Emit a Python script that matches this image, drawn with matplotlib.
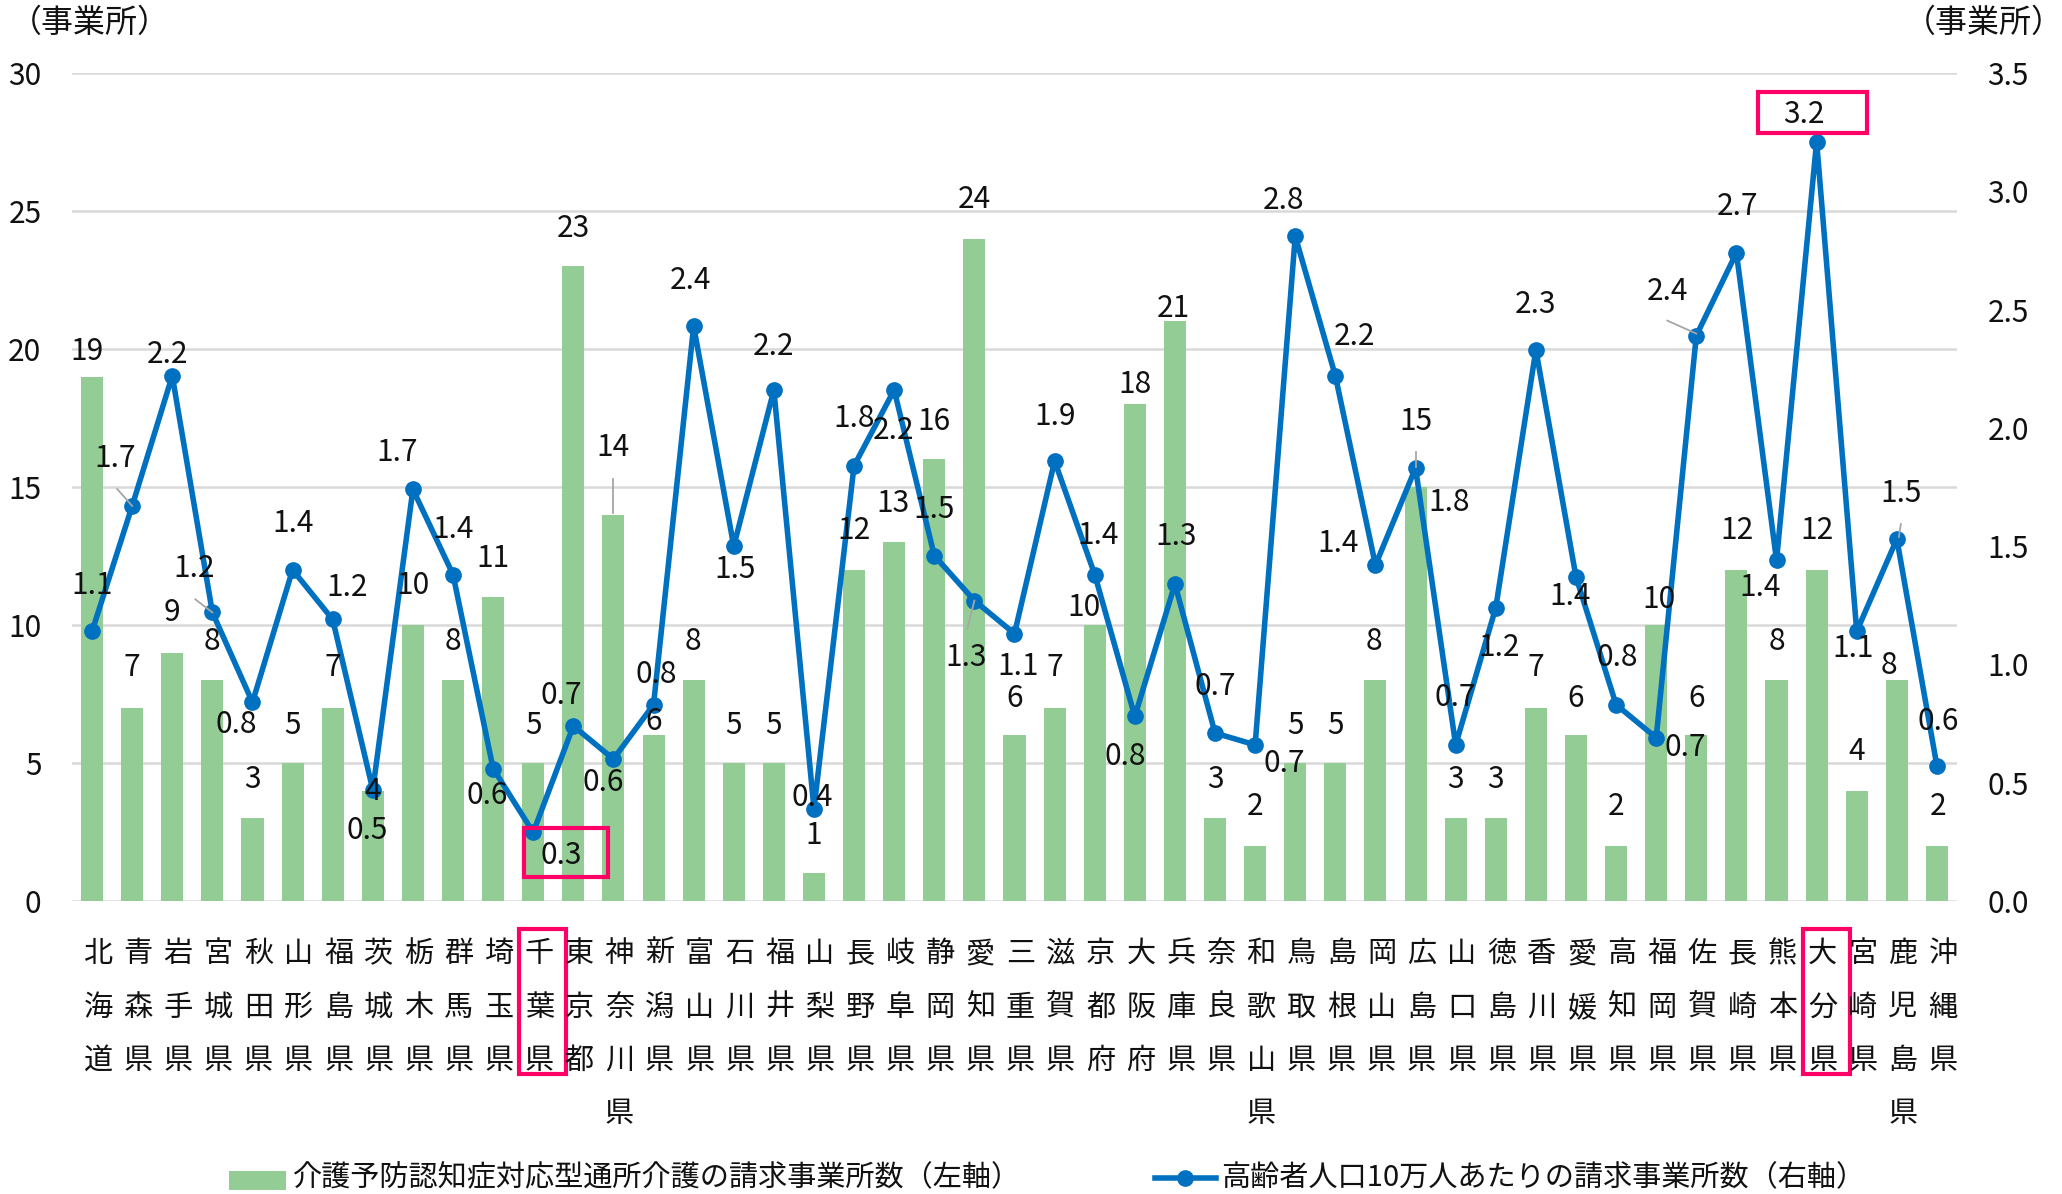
import matplotlib
matplotlib.use('Agg')
import matplotlib.pyplot as plt
from matplotlib.patches import Rectangle
import numpy as np

plt.rcParams['font.family'] = ['Noto Sans CJK JP', 'DejaVu Sans']

# ---------------- data ----------------
prefectures = ['北海道', '青森県', '岩手県', '宮城県', '秋田県', '山形県', '福島県', '茨城県',
               '栃木県', '群馬県', '埼玉県', '千葉県', '東京都', '神奈川県', '新潟県', '富山県',
               '石川県', '福井県', '山梨県', '長野県', '岐阜県', '静岡県', '愛知県', '三重県',
               '滋賀県', '京都府', '大阪府', '兵庫県', '奈良県', '和歌山県', '鳥取県', '島根県',
               '岡山県', '広島県', '山口県', '徳島県', '香川県', '愛媛県', '高知県', '福岡県',
               '佐賀県', '長崎県', '熊本県', '大分県', '宮崎県', '鹿児島県', '沖縄県']
offices = [19, 7, 9, 8, 3, 5, 7, 4, 10, 8, 11, 5, 23, 14, 6, 8, 5, 5, 1, 12, 13, 16, 24, 6,
           7, 10, 18, 21, 3, 2, 5, 5, 8, 15, 3, 3, 7, 6, 2, 10, 6, 12, 8, 12, 4, 8, 2]
per_100k = [1.14, 1.67, 2.22, 1.22, 0.84, 1.40, 1.19, 0.47, 1.74, 1.38, 0.56, 0.29, 0.74, 0.60,
            0.83, 2.43, 1.50, 2.16, 0.39, 1.84, 2.16, 1.46, 1.27, 1.13, 1.86, 1.38, 0.78, 1.34,
            0.71, 0.66, 2.81, 2.22, 1.42, 1.83, 0.66, 1.24, 2.33, 1.37, 0.83, 0.69, 2.39, 2.74,
            1.44, 3.21, 1.14, 1.53, 0.57]
left_ticks = [0, 5, 10, 15, 20, 25, 30]
right_ticks = [0.0, 0.5, 1.0, 1.5, 2.0, 2.5, 3.0, 3.5]
unit_label = '（事業所）'
legend_bar = '介護予防認知症対応型通所介護の請求事業所数（左軸）'
legend_line = '高齢者人口10万人あたりの請求事業所数（右軸）'
highlighted = ['千葉県', '大分県']

# label placement offsets (pixels, y downward) -- styling only
bar_label_off = [(-5, -25), (0, -40), (0, -40), (0, -39), (0, -39), (0, -38), (0, -40), (0, 1),
                 (0, -39), (0, -39), (0, -39), (0, -38), (0, -38), (0, -67), (0, -14), (-1, -39),
                 (0, -38), (0, -38), (0, -38), (0, -39), (-1, -39), (0, -38), (0, -39), (0, -37),
                 (0, -40), (-11, -18), (0, -20), (-2, -13), (0, -39), (0, -39), (0, -38), (0, -38),
                 (-2, -39), (0, -65), (0, -39), (0, -39), (0, -40), (0, -37), (0, -39), (3, -25),
                 (0, -37), (1, -39), (0, -39), (0, -39), (0, -39), (-8, -15), (1, -39)]
line_label_off = [(0, -46), (-17, -47), (-5, -21), (-18, -44), (-16, 22), (0, -46), (14, -32),
                  (-6, 41), (-16, -37), (0, -45), (-6, 27), (28, 23), (-12, -30), (-10, 23),
                  (3, -30), (-3, -46), (1, 23), (0, -44), (-2, -11), (0, -47), (-1, 40), (0, -46),
                  (-8, 57), (4, 33), (1, -44), (3, -39), (-10, 40), (1, -47), (0, -47), (29, 19),
                  (-12, -36), (19, -39), (-37, -22), (34, 34), (0, -47), (3, 40), (0, -45),
                  (-6, 20), (1, -47), (29, 10), (-29, -44), (1, -46), (-16, 27), (-13, -27),
                  (-4, 17), (4, -46), (1, -45)]

GREEN = '#93CD95'
BLUE = '#0070C0'
GRID = '#D9D9D9'
PINK = '#FF0066'
LEADER = '#A6A6A6'
TXT = '#111111'
FS_NUM = 21.5
FS_CJK = 21

W, H = 2062, 1194
fig = plt.figure(figsize=(W / 100, H / 100), dpi=100)
fig.patch.set_facecolor('white')
ax_l, ax_r, ax_t, ax_b = 72, 1957, 73, 901
ax = fig.add_axes([ax_l / W, 1 - ax_b / H, (ax_r - ax_l) / W, (ax_b - ax_t) / H])
ax2 = ax.twinx()
n = len(prefectures)
x = np.arange(n)

ax.bar(x, offices, width=0.55, color=GREEN, zorder=2)
ax.set_xlim(-0.5, n - 0.5)
ax.set_ylim(left_ticks[0], left_ticks[-1])
ax.set_yticks(left_ticks)
ax.set_yticklabels([str(t) for t in left_ticks])
ax.yaxis.grid(True, color=GRID, lw=1.8)
ax.set_axisbelow(True)
ax.set_xticks([])
ax.tick_params(axis='y', length=0, pad=22, labelsize=FS_NUM, labelcolor=TXT)
for s in ax.spines.values():
    s.set_visible(False)
ax.set_facecolor('none')

ax2.plot(x, per_100k, color=BLUE, lw=4, marker='o', ms=11, zorder=3)
ax2.set_ylim(right_ticks[0], right_ticks[-1])
ax2.set_yticks(right_ticks)
ax2.set_yticklabels([f'{t:.1f}' for t in right_ticks])
ax2.tick_params(axis='y', length=0, pad=22, labelsize=FS_NUM, labelcolor=TXT)
for s in ax2.spines.values():
    s.set_visible(False)

# overlay in pixel coordinates (y downward)
ov = fig.add_axes([0, 0, 1, 1], zorder=10)
ov.set_xlim(0, W)
ov.set_ylim(H, 0)
ov.axis('off')


def to_pix(axis, xv, yv):
    px, py = axis.transData.transform((xv, yv))
    return px, H - py


bar_anchor = [to_pix(ax, i, v) for i, v in enumerate(offices)]
pt_anchor = [to_pix(ax2, i, v) for i, v in enumerate(per_100k)]

for i in range(n):
    bx, by = bar_anchor[i]
    dx, dy = bar_label_off[i]
    ov.text(bx + dx, by + dy, str(offices[i]), ha='center', va='center',
            fontsize=FS_NUM, color=TXT)
    px, py = pt_anchor[i]
    dx, dy = line_label_off[i]
    ov.text(px + dx, py + dy, f'{per_100k[i]:.1f}', ha='center', va='center',
            fontsize=FS_NUM, color=TXT)

# leader lines
leaders = [('pt', 1, (-15, -17), (0, 0)), ('pt', 3, (-17, -13), (0, 0)),
           ('bar', 13, (0, -36), (0, -2)), ('pt', 22, (0, 0), (-7, 28)),
           ('pt', 40, (-29, -15), (0, -2)), ('bar', 33, (0, -35), (0, -20)),
           ('pt', 45, (4, -15), (2, -2))]
for kind, i, a, b in leaders:
    axp, ayp = (pt_anchor if kind == 'pt' else bar_anchor)[i]
    ov.plot([axp + a[0], axp + b[0]], [ayp + a[1], ayp + b[1]], color=LEADER, lw=1.3)

# category labels, stacked vertically
rows = [954, 1008, 1061, 1114]
for i, name in enumerate(prefectures):
    cx = bar_anchor[i][0] + 6
    for j, ch in enumerate(name):
        ov.text(cx, rows[j], ch, ha='center', va='center', fontsize=FS_CJK, color=TXT)

# highlight boxes
for name in highlighted:
    i = prefectures.index(name)
    cx = bar_anchor[i][0]
    ov.add_patch(Rectangle((cx - 14, 929), 47, 145, fill=False, ec=PINK, lw=3))
i = prefectures.index('千葉県')
lx, ly = pt_anchor[i][0] + line_label_off[i][0], pt_anchor[i][1] + line_label_off[i][1]
ov.add_patch(Rectangle((lx - 37, ly - 27), 84, 49, fill=False, ec=PINK, lw=3))
i = prefectures.index('大分県')
lx, ly = pt_anchor[i][0] + line_label_off[i][0], pt_anchor[i][1] + line_label_off[i][1]
ov.add_patch(Rectangle((lx - 46, ly - 23), 109, 41, fill=False, ec=PINK, lw=3))

# unit labels
ov.text(90, 23, unit_label, ha='center', va='center', fontsize=23, color=TXT)
ov.text(1984, 23, unit_label, ha='center', va='center', fontsize=23, color=TXT)

# legend
ov.add_patch(Rectangle((229, 1171), 57, 19, color=GREEN, lw=0))
ov.text(293, 1178, legend_bar, ha='left', va='center', fontsize=FS_CJK, color=TXT)
ov.plot([1155, 1216], [1178, 1178], color=BLUE, lw=4, marker=None)
ov.plot([1185], [1178], color=BLUE, marker='o', ms=11)
ov.text(1221, 1178, legend_line, ha='left', va='center', fontsize=FS_CJK, color=TXT)

fig.savefig('out.png', dpi=100, facecolor='white')
